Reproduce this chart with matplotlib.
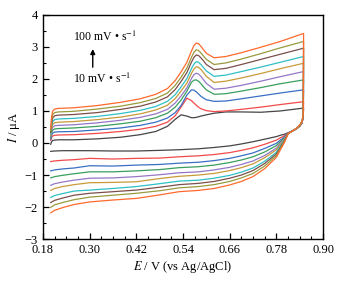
import matplotlib
matplotlib.use('Agg')
import matplotlib.pyplot as plt
from matplotlib.ticker import MultipleLocator

plt.rcParams['font.family'] = ['Liberation Serif', 'DejaVu Serif']
plt.rcParams['mathtext.fontset'] = 'stix'

# scan rates (mV/s) and line colours
rates = [10, 20, 30, 40, 50, 60, 70, 80, 90, 100]
colors = ['#454545', '#f24a4a', '#3a6fc4', '#3a9e5e', '#9577c6',
          '#c89a38', '#2fbfc6', '#7b4f4a', '#999a3e', '#ff6a2c']

# forward sweep potentials (V)
fwd_E = [0.200, 0.202, 0.205, 0.21, 0.22, 0.26, 0.32, 0.38, 0.43, 0.47, 0.50, 0.52,
         0.535, 0.55, 0.562, 0.568, 0.574, 0.58, 0.586, 0.593, 0.60, 0.62, 0.65,
         0.69, 0.74, 0.79, 0.85]
# reverse sweep potentials (V)
rev_E = [0.849, 0.846, 0.84, 0.83, 0.82, 0.81, 0.80, 0.79, 0.78, 0.75, 0.72, 0.69,
         0.66, 0.62, 0.58, 0.53, 0.48, 0.42, 0.36, 0.30, 0.26, 0.23, 0.21, 0.20]

# forward currents (uA), one row per scan rate
fwd_I = [
    [-.04, .04, .08, .09, .10, .10, .13, .18, .26, .36, .52, .74, .88, .84, .79, .79, .80, .82, .84, .86, .88, .93, .97, .97, .96, 1.00, 1.09],
    [.08, .17, .22, .24, .25, .26, .30, .36, .43, .52, .65, .85, 1.12, 1.40, 1.32, 1.25, 1.18, 1.12, 1.07, 1.04, 1.01, .98, 1.00, 1.05, 1.12, 1.20, 1.29],
    [.12, .24, .31, .34, .35, .36, .41, .47, .55, .65, .78, .95, 1.17, 1.50, 1.66, 1.65, 1.60, 1.53, 1.46, 1.40, 1.35, 1.30, 1.31, 1.38, 1.47, 1.56, 1.66],
    [.16, .31, .40, .44, .45, .47, .52, .60, .68, .79, .93, 1.12, 1.34, 1.62, 1.90, 1.96, 1.97, 1.93, 1.85, 1.75, 1.66, 1.52, 1.54, 1.62, 1.73, 1.85, 1.97],
    [.20, .38, .49, .54, .55, .57, .63, .71, .80, .91, 1.05, 1.25, 1.47, 1.72, 2.02, 2.13, 2.18, 2.15, 2.08, 1.97, 1.86, 1.68, 1.71, 1.80, 1.93, 2.07, 2.23],
    [.24, .45, .58, .63, .65, .67, .73, .81, .91, 1.03, 1.18, 1.39, 1.62, 1.87, 2.18, 2.31, 2.38, 2.36, 2.30, 2.19, 2.08, 1.89, 1.93, 2.03, 2.17, 2.32, 2.49],
    [.28, .52, .67, .73, .75, .77, .83, .92, 1.02, 1.14, 1.30, 1.51, 1.75, 2.01, 2.33, 2.46, 2.54, 2.52, 2.45, 2.35, 2.25, 2.08, 2.12, 2.23, 2.37, 2.52, 2.70],
    [.33, .60, .78, .85, .87, .89, .95, 1.05, 1.15, 1.28, 1.44, 1.67, 1.92, 2.20, 2.53, 2.67, 2.75, 2.73, 2.66, 2.56, 2.45, 2.29, 2.33, 2.45, 2.61, 2.77, 2.96],
    [.38, .68, .88, .95, .97, .99, 1.06, 1.15, 1.26, 1.39, 1.56, 1.80, 2.05, 2.34, 2.68, 2.83, 2.91, 2.89, 2.81, 2.71, 2.61, 2.45, 2.50, 2.62, 2.79, 2.97, 3.17],
    [.45, .80, 1.00, 1.06, 1.08, 1.10, 1.17, 1.27, 1.38, 1.52, 1.70, 1.95, 2.22, 2.52, 2.88, 3.04, 3.12, 3.10, 3.02, 2.91, 2.80, 2.66, 2.70, 2.82, 2.99, 3.17, 3.42],
]

# reverse currents (uA), one row per scan rate
rev_I = [
    [.80, .62, .52, .43, .37, .32, .27, .24, .20, .12, .04, -.03, -.09, -.14, -.18, -.21, -.23, -.25, -.25, -.24, -.24, -.24, -.25, -.26],
    [.82, .63, .52, .43, .37, .31, .22, .16, .09, -.04, -.15, -.23, -.30, -.36, -.40, -.43, -.47, -.48, -.50, -.48, -.52, -.54, -.56, -.58],
    [.83, .64, .53, .43, .37, .31, .18, .09, -.01, -.17, -.31, -.40, -.48, -.55, -.60, -.63, -.67, -.69, -.72, -.71, -.78, -.81, -.84, -.87],
    [.84, .65, .53, .43, .37, .30, .15, .04, -.08, -.28, -.43, -.53, -.61, -.69, -.74, -.77, -.83, -.87, -.90, -.90, -.96, -1.01, -1.05, -1.09],
    [.86, .65, .54, .44, .37, .30, .12, -.01, -.16, -.39, -.56, -.67, -.76, -.84, -.90, -.93, -.99, -1.05, -1.09, -1.10, -1.16, -1.22, -1.27, -1.32],
    [.86, .66, .54, .44, .37, .29, .10, -.05, -.21, -.46, -.65, -.77, -.86, -.95, -1.00, -1.04, -1.11, -1.21, -1.23, -1.24, -1.30, -1.36, -1.42, -1.48],
    [.88, .67, .54, .44, .37, .29, .07, -.10, -.29, -.57, -.78, -.91, -1.01, -1.10, -1.16, -1.19, -1.27, -1.36, -1.42, -1.47, -1.50, -1.58, -1.64, -1.70],
    [.88, .67, .55, .44, .37, .29, .05, -.14, -.34, -.64, -.86, -1.00, -1.10, -1.20, -1.26, -1.30, -1.38, -1.47, -1.52, -1.57, -1.63, -1.72, -1.79, -1.86],
    [.89, .67, .55, .44, .37, .28, .02, -.18, -.39, -.72, -.95, -1.09, -1.20, -1.30, -1.36, -1.40, -1.49, -1.57, -1.63, -1.69, -1.77, -1.86, -1.93, -2.01],
    [.90, .68, .55, .44, .37, .28, .00, -.22, -.45, -.80, -1.05, -1.20, -1.31, -1.42, -1.48, -1.52, -1.62, -1.73, -1.78, -1.84, -1.92, -2.02, -2.10, -2.18],
]

x_ticks = [0.18, 0.30, 0.42, 0.54, 0.66, 0.78, 0.90]
y_ticks = [-3, -2, -1, 0, 1, 2, 3, 4]

fig = plt.figure(figsize=(3.55, 2.86), dpi=100)
ax = fig.add_axes([0.121, 0.164, 0.789, 0.784])

for i in range(len(rates)):
    ax.plot(fwd_E + rev_E, fwd_I[i] + rev_I[i], color=colors[i], lw=0.9,
            solid_joinstyle='round')

ax.set_xlim(0.18, 0.90)
ax.set_ylim(-3, 4)
ax.set_xticks(x_ticks)
ax.set_xticklabels(['%.2f' % t for t in x_ticks])
ax.set_yticks(y_ticks)
ax.xaxis.set_minor_locator(MultipleLocator(0.03))
ax.yaxis.set_minor_locator(MultipleLocator(0.5))
ax.tick_params(which='both', direction='in', top=False, right=False, labelsize=9)
ax.tick_params(which='major', length=4, width=0.9)
ax.tick_params(which='minor', length=2.5, width=0.8)
for s in ax.spines.values():
    s.set_linewidth(1.0)

ax.set_xlabel(r'$E$ / V (vs Ag/AgCl)', fontsize=9, labelpad=2)
ax.set_ylabel(r'$I$ / μA', fontsize=9, labelpad=2)

# scan-rate annotation
ax.text(0.258, 3.31, '100 mV • s$^{-1}$', fontsize=8.5, va='center', ha='left')
ax.text(0.258, 2.0, '10 mV • s$^{-1}$', fontsize=8.5, va='center', ha='left')
ax.annotate('', xy=(0.308, 3.02), xytext=(0.308, 2.28),
            arrowprops=dict(arrowstyle='-|>', color='black', lw=1.0, mutation_scale=7))

fig.savefig('out.png', dpi=100)
